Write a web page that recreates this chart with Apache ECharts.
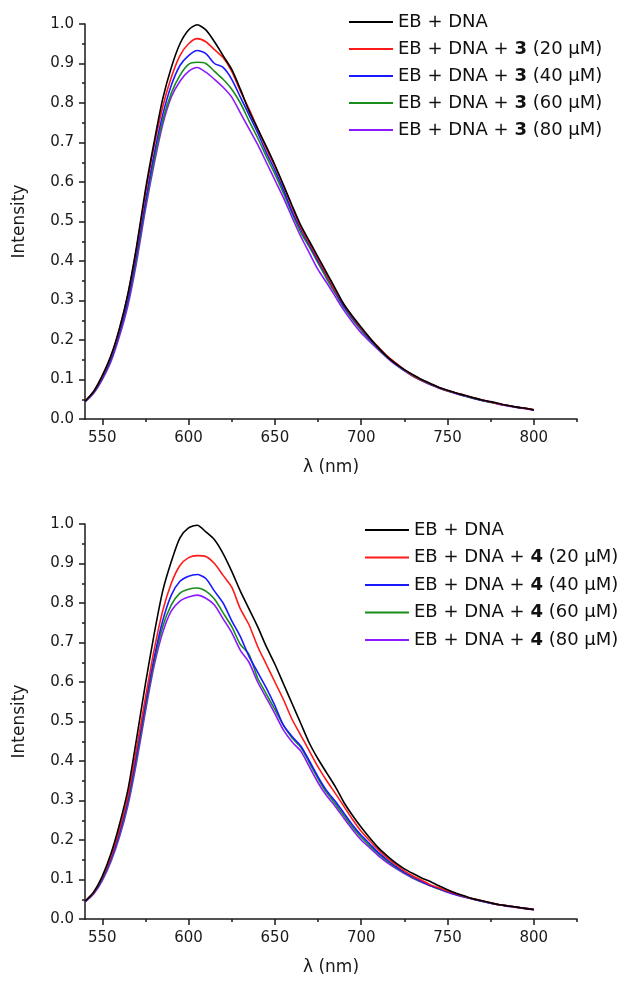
<!DOCTYPE html>
<html>
<head>
<meta charset="utf-8">
<script src="https://cdn.jsdelivr.net/npm/echarts@6/dist/echarts.min.js"></script>
<style>
html,body{margin:0;padding:0;background:#fff;}
#chart{width:625px;height:983px;}
</style>
</head>
<body>
<div id="chart"></div>
<script>
// Wavelengths (nm)
const wavelengths = [540,545,550,555,560,565,570,575,580,585,590,595,600,605,610,615,620,625,630,635,640,645,650,655,660,665,670,675,680,685,690,695,700,705,710,715,720,725,730,735,740,745,750,755,760,765,770,775,780,785,790,795,800];

// Top panel (compound 3)
const top_EB_DNA = [0.045,0.070,0.110,0.160,0.230,0.320,0.440,0.580,0.700,0.810,0.890,0.950,0.985,0.998,0.985,0.955,0.920,0.885,0.835,0.780,0.735,0.690,0.643,0.592,0.540,0.490,0.450,0.410,0.370,0.330,0.290,0.260,0.232,0.205,0.180,0.158,0.140,0.125,0.112,0.100,0.090,0.080,0.073,0.066,0.060,0.054,0.048,0.044,0.039,0.034,0.030,0.027,0.023];
const top_3_20 = [0.045,0.070,0.108,0.158,0.228,0.318,0.435,0.570,0.690,0.790,0.865,0.920,0.950,0.963,0.955,0.935,0.915,0.880,0.830,0.785,0.735,0.685,0.640,0.590,0.535,0.485,0.445,0.405,0.365,0.325,0.290,0.258,0.230,0.205,0.182,0.160,0.142,0.125,0.110,0.099,0.089,0.080,0.072,0.066,0.060,0.054,0.048,0.043,0.038,0.034,0.030,0.027,0.024];
const top_3_40 = [0.044,0.068,0.104,0.152,0.220,0.305,0.420,0.550,0.670,0.770,0.845,0.895,0.920,0.933,0.925,0.900,0.890,0.860,0.815,0.770,0.725,0.675,0.630,0.580,0.525,0.480,0.440,0.400,0.362,0.322,0.285,0.255,0.228,0.202,0.180,0.158,0.140,0.124,0.110,0.099,0.088,0.080,0.072,0.065,0.059,0.053,0.047,0.043,0.038,0.034,0.030,0.027,0.022];
const top_3_60 = [0.044,0.067,0.103,0.150,0.217,0.300,0.410,0.540,0.655,0.755,0.825,0.870,0.898,0.903,0.900,0.880,0.860,0.835,0.800,0.755,0.712,0.665,0.620,0.572,0.520,0.472,0.435,0.395,0.355,0.318,0.282,0.252,0.225,0.200,0.178,0.157,0.139,0.123,0.109,0.098,0.088,0.079,0.071,0.065,0.058,0.052,0.047,0.042,0.038,0.034,0.030,0.027,0.023];
const top_3_80 = [0.043,0.065,0.100,0.145,0.210,0.290,0.400,0.530,0.645,0.745,0.815,0.855,0.880,0.890,0.878,0.860,0.840,0.815,0.775,0.735,0.695,0.650,0.605,0.560,0.510,0.462,0.420,0.378,0.345,0.310,0.275,0.245,0.218,0.196,0.175,0.155,0.137,0.122,0.108,0.097,0.087,0.078,0.071,0.064,0.058,0.052,0.047,0.043,0.037,0.033,0.029,0.026,0.022];

// Bottom panel (compound 4)
const bot_EB_DNA = [0.045,0.068,0.108,0.165,0.240,0.330,0.460,0.595,0.720,0.830,0.905,0.965,0.990,0.997,0.980,0.960,0.925,0.880,0.830,0.785,0.740,0.690,0.645,0.595,0.545,0.495,0.445,0.405,0.370,0.335,0.295,0.262,0.232,0.205,0.180,0.160,0.142,0.127,0.115,0.104,0.095,0.084,0.074,0.065,0.058,0.051,0.046,0.041,0.036,0.033,0.030,0.027,0.024];
const bot_4_20 = [0.045,0.067,0.105,0.158,0.228,0.315,0.435,0.560,0.680,0.780,0.850,0.895,0.915,0.920,0.918,0.900,0.870,0.840,0.785,0.745,0.690,0.645,0.600,0.555,0.505,0.465,0.425,0.385,0.350,0.318,0.285,0.252,0.222,0.198,0.175,0.155,0.138,0.122,0.109,0.098,0.087,0.079,0.071,0.064,0.057,0.051,0.046,0.041,0.036,0.033,0.030,0.027,0.024];
const bot_4_40 = [0.044,0.066,0.102,0.153,0.220,0.305,0.420,0.545,0.660,0.755,0.820,0.855,0.868,0.872,0.862,0.830,0.800,0.755,0.715,0.665,0.625,0.585,0.540,0.490,0.462,0.438,0.400,0.360,0.325,0.298,0.268,0.238,0.212,0.190,0.168,0.150,0.133,0.118,0.106,0.095,0.085,0.077,0.069,0.062,0.056,0.050,0.045,0.040,0.036,0.033,0.030,0.027,0.024];
const bot_4_60 = [0.044,0.065,0.100,0.150,0.215,0.298,0.410,0.535,0.650,0.740,0.795,0.825,0.835,0.838,0.830,0.810,0.775,0.740,0.695,0.670,0.610,0.570,0.530,0.490,0.458,0.435,0.395,0.355,0.320,0.292,0.262,0.232,0.207,0.185,0.165,0.147,0.131,0.117,0.105,0.094,0.085,0.076,0.069,0.062,0.056,0.050,0.045,0.040,0.036,0.033,0.030,0.026,0.024];
const bot_4_80 = [0.043,0.063,0.097,0.145,0.208,0.290,0.400,0.525,0.640,0.725,0.780,0.805,0.815,0.820,0.812,0.795,0.760,0.725,0.680,0.650,0.600,0.560,0.520,0.478,0.448,0.425,0.385,0.345,0.312,0.285,0.255,0.226,0.200,0.180,0.160,0.143,0.128,0.115,0.103,0.093,0.084,0.076,0.068,0.061,0.055,0.050,0.045,0.040,0.036,0.032,0.029,0.026,0.023];

// Tick values
const xMajorTicks = [550,600,650,700,750,800];
const xMinorTicks = [575,625,675,725,775,825];

const topNames = ['EB + DNA','EB + DNA + 3 (20 μM)','EB + DNA + 3 (40 μM)','EB + DNA + 3 (60 μM)','EB + DNA + 3 (80 μM)'];
const botNames = ['EB + DNA','EB + DNA + 4 (20 μM)','EB + DNA + 4 (40 μM)','EB + DNA + 4 (60 μM)','EB + DNA + 4 (80 μM)'];
const colors = ['#000000','#ff1a1a','#1a1aff','#1a8c1a','#8c1aff'];

const FONT = 'DejaVu Sans';
const AX = '#1a1a1a';

function pairs(ys){ return wavelengths.map((w,i)=>[w, ys[i]]); }

function legendFormatter(name){
  const m = name.match(/^(EB \+ DNA \+ )(\d)( \(.*\))$/);
  if(!m) return '{n|' + name + '}';
  return '{n|' + m[1] + '}{b|' + m[2] + '}{n|' + m[3] + '}';
}

function makeX(gi){
  return [{
    gridIndex: gi, type:'value', min:540, max:825, position:'bottom',
    name:'λ (nm)', nameLocation:'middle', nameGap:40,
    nameTextStyle:{fontFamily:FONT, fontSize:17, color:AX},
    axisLine:{show:true, onZero:false, lineStyle:{color:AX, width:1.5}},
    axisTick:{show:true, customValues:xMajorTicks, length:6, lineStyle:{color:AX, width:1.5}},
    axisLabel:{show:true, customValues:xMajorTicks, margin:12, fontFamily:FONT, fontSize:15, color:AX},
    splitLine:{show:false}
  },{
    gridIndex: gi, type:'value', min:540, max:825, position:'bottom', offset:0,
    axisLine:{show:false, onZero:false},
    axisTick:{show:true, customValues:xMinorTicks, length:3, lineStyle:{color:AX, width:1.5}},
    axisLabel:{show:false},
    splitLine:{show:false}
  }];
}
function makeY(gi){
  return {
    gridIndex: gi, type:'value', min:0, max:1, interval:0.1,
    name:'Intensity', nameLocation:'middle', nameGap:57,
    nameTextStyle:{fontFamily:FONT, fontSize:17, color:AX},
    axisLine:{show:true, lineStyle:{color:AX, width:1.5}},
    axisTick:{show:true, length:6, lineStyle:{color:AX, width:1.5}},
    minorTick:{show:true, splitNumber:2, length:3, lineStyle:{color:AX, width:1.5}},
    axisLabel:{margin:11, fontFamily:FONT, fontSize:15, color:AX, formatter:v=>v.toFixed(1)},
    splitLine:{show:false}, minorSplitLine:{show:false}
  };
}

const topData = [top_EB_DNA, top_3_20, top_3_40, top_3_60, top_3_80];
const botData = [bot_EB_DNA, bot_4_20, bot_4_40, bot_4_60, bot_4_80];

const series = [];
topData.forEach((d,i)=>series.push({
  name: topNames[i], type:'line', xAxisIndex:0, yAxisIndex:0, data:pairs(d),
  showSymbol:false, symbol:'none', smooth:0.25, lineStyle:{color:colors[i], width:1.6}, itemStyle:{color:colors[i]},
  z: 10 - i, animation:false
}));
botData.forEach((d,i)=>series.push({
  name: botNames[i], type:'line', xAxisIndex:2, yAxisIndex:1, data:pairs(d),
  showSymbol:false, symbol:'none', smooth:0.25, lineStyle:{color:colors[i], width:1.6}, itemStyle:{color:colors[i]},
  z: 10 - i, animation:false
}));

const richStyle = {
  n:{fontFamily:FONT, fontSize:18, lineHeight:20, color:'#111'},
  b:{fontFamily:FONT, fontSize:18, lineHeight:20, color:'#111', fontWeight:'bold'}
};

function makeLegend(names, left, top, gap){
  return {
    data: names.map((n,i)=>({name:n, icon:'rect', itemStyle:{color:colors[i]}})),
    orient:'vertical', left:left, top:top, itemWidth:44, itemHeight:2, itemGap:gap,
    itemStyle:{borderWidth:0},
    textStyle:{fontFamily:FONT, fontSize:18, lineHeight:20, color:'#111', rich:richStyle},
    formatter: legendFormatter, padding:0, selectedMode:false
  };
}

const chart = echarts.init(document.getElementById('chart'), null, {renderer:'canvas'});
chart.setOption({
  backgroundColor:'#fff',
  animation:false,
  grid:[
    {left:85, top:24, width:492, height:395},
    {left:85, top:524, width:492, height:395}
  ],
  xAxis: makeX(0).concat(makeX(1)),
  yAxis: [makeY(0), makeY(1)],
  legend:[
    makeLegend(topNames, 349, 12, 7),
    makeLegend(botNames, 365, 520, 7.5)
  ],
  series: series
});
</script>
</body>
</html>
